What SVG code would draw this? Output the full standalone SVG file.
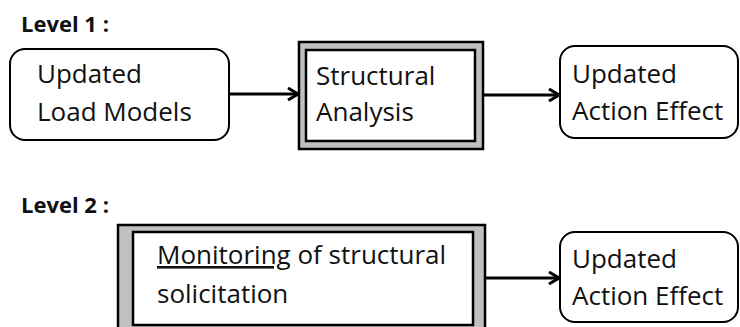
<svg xmlns="http://www.w3.org/2000/svg" width="740" height="327" viewBox="0 0 740 327">
<style>
text{font-family:"Open Sans","Liberation Sans",sans-serif;fill:#111;}
.lvl{font-weight:bold;font-size:22px;}
.t{font-size:26px;}
.rbox{fill:#fff;stroke:#000;stroke-width:2;}
.outer{fill:#c0c0c0;stroke:#000;stroke-width:2.5;}
.inner{fill:#fff;stroke:#000;stroke-width:2.5;}
.conn{stroke:#000;stroke-width:3;fill:none;}
</style>
<defs>
<marker id="arr" viewBox="0 0 12 14" refX="11" refY="7" markerWidth="12" markerHeight="14" markerUnits="userSpaceOnUse" orient="auto">
<path d="M1,1 L11,7 L1,13" fill="none" stroke="#000" stroke-width="3"/>
</marker>
</defs>
<text class="lvl" x="21" y="32">Level 1 :</text>
<text class="lvl" x="21" y="213">Level 2 :</text>
<g id="n1">
<rect class="rbox" x="10" y="49" width="219" height="91" rx="15"/>
<text class="t" x="37" y="83">Updated</text>
<text class="t" x="37" y="121">Load Models</text>
</g>
<g id="n2">
<rect class="outer" x="299" y="42" width="184" height="107"/>
<rect class="inner" x="306" y="50" width="169" height="91"/>
<text class="t" x="316" y="85">Structural</text>
<text class="t" x="316" y="121">Analysis</text>
</g>
<g id="n3">
<rect class="rbox" x="560" y="46" width="178" height="92" rx="15"/>
<text class="t" x="572" y="83">Updated</text>
<text class="t" x="572" y="120">Action Effect</text>
</g>
<g id="n4">
<rect class="outer" x="118" y="225" width="367" height="110"/>
<rect class="inner" x="133" y="232" width="340" height="93"/>
<text class="t" x="157" y="264"><tspan text-decoration="underline">Monitoring</tspan> of structural</text>
<text class="t" x="157" y="303">solicitation</text>
</g>
<g id="n5">
<rect class="rbox" x="560" y="232" width="178" height="90" rx="15"/>
<text class="t" x="572" y="268">Updated</text>
<text class="t" x="572" y="305">Action Effect</text>
</g>
<g id="connectors">
<line class="conn" x1="229" y1="94" x2="298" y2="94" marker-end="url(#arr)"/>
<line class="conn" x1="483" y1="95" x2="559" y2="95" marker-end="url(#arr)"/>
<line class="conn" x1="485" y1="278" x2="559" y2="278" marker-end="url(#arr)"/>
</g>
</svg>
